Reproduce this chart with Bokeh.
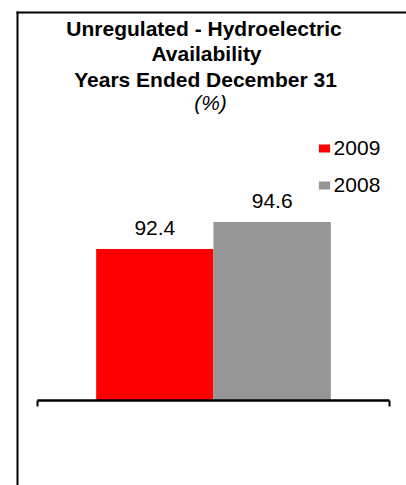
from bokeh.plotting import figure
from bokeh.models import (ColumnDataSource, Range1d, LinearAxis, FixedTicker, LabelSet,
                          Label, Legend, LegendItem, BoxAnnotation)
from bokeh.core.properties import value
from bokeh.embed import file_html
from bokeh.resources import INLINE

# ---- data ----
years = ["2009", "2008"]
values = [92.4, 94.6]
value_labels = ["92.4", "94.6"]
colors = ["#FF0000", "#969696"]
axis_min = 80.0

title_lines = ["Unregulated - Hydroelectric", "Availability", "Years Ended December 31"]
subtitle = "(%)"

# ---- layout (page pixels) ----
W, H = 406, 485
PAGE_LEFT, PAGE_TOP = 0, 0
AX_LEFT, AX_RIGHT = 37, 389   # axis extent in page px
BASE_Y = 400                  # baseline page y
PX_PER_UNIT_Y = 12.22
N_SLOTS = 3.0
U = (AX_RIGHT - AX_LEFT) / N_SLOTS

def px_to_x(px):
    return (px - AX_LEFT) / U

def py_to_y(py):
    return axis_min + (BASE_Y - py) / PX_PER_UNIT_Y

x_range = Range1d(px_to_x(PAGE_LEFT), px_to_x(PAGE_LEFT + W))
y_range = Range1d(py_to_y(PAGE_TOP + H), py_to_y(PAGE_TOP))

p = figure(width=W, height=H, x_range=x_range, y_range=y_range,
           x_axis_type=None, y_axis_type=None, toolbar_location=None,
           output_backend="svg", min_border=0)
p.min_border_left = p.min_border_right = p.min_border_top = p.min_border_bottom = 0
p.outline_line_color = None
p.background_fill_color = "white"
p.border_fill_color = "white"

xs = [i + 1 for i in range(len(years))]
src = ColumnDataSource(dict(x=xs, top=values, color=colors, label=value_labels, year=years))
bars = p.vbar(x="x", top="top", bottom=axis_min, width=1.0, fill_color="color",
              line_color=None, source=src)

# chart frame border (left and top edges visible), drawn as thin filled strips
p.add_layout(BoxAnnotation(left=px_to_x(16), right=px_to_x(18), top=py_to_y(11), bottom=py_to_y(900),
                           fill_color="black", fill_alpha=1, line_color=None))
p.add_layout(BoxAnnotation(left=px_to_x(16), right=px_to_x(900), top=py_to_y(11), bottom=py_to_y(13),
                           fill_color="black", fill_alpha=1, line_color=None))

# category axis line with end ticks at the baseline
ax = LinearAxis(fixed_location=axis_min, bounds=(0, N_SLOTS),
                ticker=FixedTicker(ticks=[0, N_SLOTS]))
ax.major_tick_in = 0
ax.major_tick_out = 6
ax.major_tick_line_width = 2
ax.major_tick_line_color = "black"
ax.minor_tick_line_color = None
ax.axis_line_width = 2.5
ax.axis_line_color = "black"
ax.major_label_text_color = None
ax.major_label_text_font_size = "1px"
p.add_layout(ax, "below")

# value labels
p.add_layout(LabelSet(x="x", y="top", text="label", source=src, y_offset=14,
                      text_align="center", text_baseline="alphabetic",
                      text_font=value("Liberation Sans"), text_font_size=value("21px"),
                      text_color="black"))

# titles
for line, base, cxp in zip(title_lines, [28, 53, 79], [203.5, 206, 205]):
    p.add_layout(Label(x=cxp - PAGE_LEFT, y=H - (base - PAGE_TOP), x_units="screen", y_units="screen",
                       text=line, text_align="center", text_baseline="alphabetic",
                       text_font="Liberation Sans", text_font_style="bold",
                       text_font_size="21px", text_color="black"))
p.add_layout(Label(x=210 - PAGE_LEFT, y=H - (102 - PAGE_TOP), x_units="screen", y_units="screen",
                   text=subtitle, text_align="center", text_baseline="alphabetic",
                   text_font="Liberation Sans", text_font_style="italic",
                   text_font_size="21px", text_color="black"))

# legend
legend = Legend(items=[LegendItem(label=years[i], renderers=[bars], index=i) for i in range(len(years))],
                location=(316.6 - PAGE_LEFT, H - (197 - PAGE_TOP)))
legend.glyph_width = 14
legend.glyph_height = 10
legend.label_standoff = 3
legend.label_height = 20
legend.spacing = 13
legend.padding = 0
legend.margin = 0
legend.border_line_color = None
legend.background_fill_alpha = 0
legend.label_text_font = "Liberation Sans"
legend.label_text_font_size = "21px"
legend.label_text_color = "black"
p.add_layout(legend, "center")

open("out.html", "w").write(file_html(p, INLINE))
